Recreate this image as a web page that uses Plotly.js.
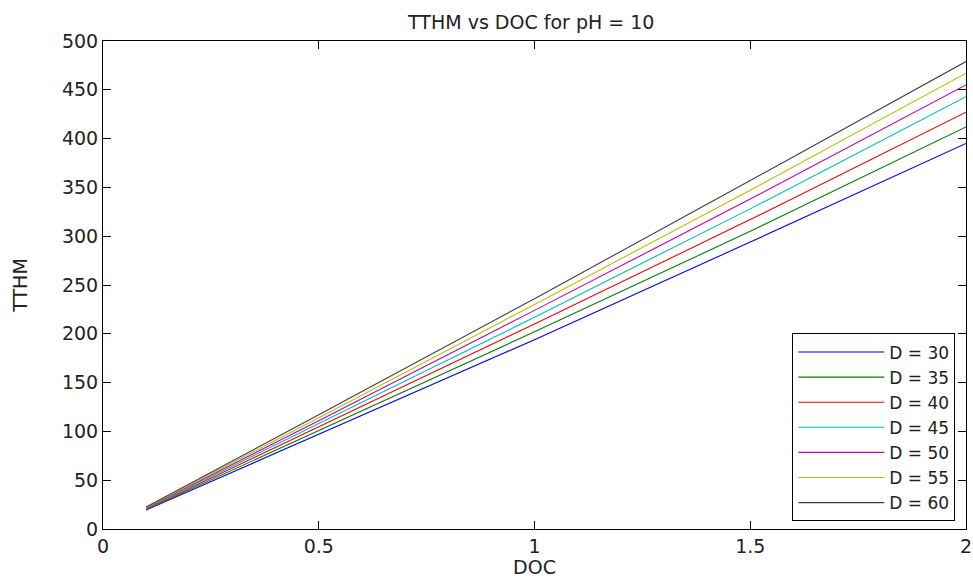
<!DOCTYPE html>
<html>
<head>
<meta charset="utf-8">
<script src="https://cdn.plot.ly/plotly-3.0.1.min.js"></script>
<style>html,body{margin:0;padding:0;background:#fff;}#chart{width:973px;height:578px;}</style>
</head>
<body>
<div id="chart"></div>
<script>
// Data
const doc = [0.1, 0.5, 1.0, 1.5, 2.0];
const seriesNames = ["D = 30", "D = 35", "D = 40", "D = 45", "D = 50", "D = 55", "D = 60"];
const d30 = [19.5, 97, 194, 294, 395];
const d35 = [20, 101, 202, 305, 412];
const d40 = [20.5, 105, 210, 317, 427];
const d45 = [21, 108, 217, 328, 443];
const d50 = [21.5, 111, 224, 338, 455];
const d55 = [22, 114, 230, 347, 467];
const d60 = [22.5, 117, 236, 357, 479];
const seriesValues = [d30, d35, d40, d45, d50, d55, d60];
const colors = ["#0000ff", "#008000", "#ff0000", "#00bfbf", "#bf00bf", "#bfbf00", "#404040"];
const xTicks = [0, 0.5, 1, 1.5, 2];
const yTicks = [0, 50, 100, 150, 200, 250, 300, 350, 400, 450, 500];

const font = "DejaVu Sans, Liberation Sans, Arial, sans-serif";
const traces = seriesValues.map((v, i) => ({
  x: doc, y: v, type: "scatter", mode: "lines", name: seriesNames[i],
  line: {color: colors[i], width: 1.1}
}));

const axisCommon = {
  showline: true, linecolor: "#000", linewidth: 1, mirror: "ticks",
  ticks: "inside", ticklen: 8, tickcolor: "#000", tickwidth: 1,
  showgrid: false, zeroline: false,
  tickfont: {family: font, size: 19, color: "#222"}
};

const layout = {
  width: 973, height: 578,
  margin: {l: 103, r: 7, t: 41, b: 49},
  paper_bgcolor: "#fff", plot_bgcolor: "#fff",
  title: {text: "TTHM vs DOC for pH = 10", font: {family: font, size: 19, color: "#222"}, x: 0.546, xanchor: "center", y: 0.962, yanchor: "middle"},
  xaxis: Object.assign({}, axisCommon, {range: [0, 2], tickvals: xTicks, ticktext: xTicks.map(String),
    title: {text: "DOC", font: {family: font, size: 19, color: "#222"}, standoff: 3}}),
  yaxis: Object.assign({}, axisCommon, {range: [0, 500], tickvals: yTicks, ticktext: yTicks.map(String),
    title: {text: "TTHM", font: {family: font, size: 19, color: "#222"}, standoff: 29}}),
  showlegend: true,
  legend: {x: 0.9876, y: 0.0155, xanchor: "right", yanchor: "bottom",
    bgcolor: "#fff", bordercolor: "#000", borderwidth: 1, tracegroupgap: 0,
    font: {family: font, size: 17, color: "#222"}, itemwidth: 86, entrywidth: 180}
};

Plotly.newPlot("chart", traces, layout, {displayModeBar: false, staticPlot: true});
</script>
</body>
</html>
